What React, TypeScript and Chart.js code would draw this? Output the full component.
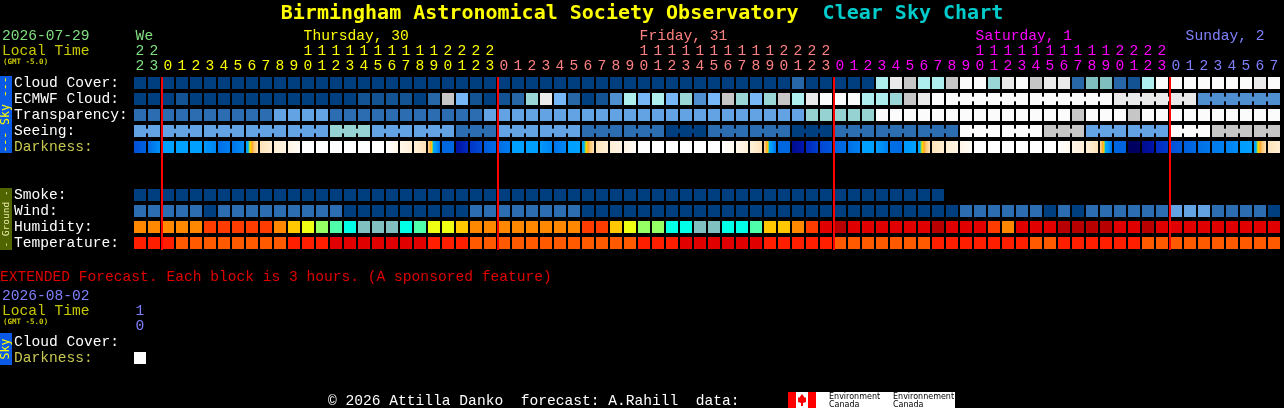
import React, { useEffect, useRef } from "react";
import { Chart, registerables } from "chart.js";

Chart.register(...registerables);

const MONO = "'Liberation Mono', 'DejaVu Sans Mono', monospace";
const BOLD_MONO = "'DejaVu Sans Mono', 'Liberation Mono', monospace";
const W = 1284;
const H = 408;

// ---------------- data ----------------
const hourLabels = [22, 23,
  0, 1, 2, 3, 4, 5, 6, 7, 8, 9, 10, 11, 12, 13, 14, 15, 16, 17, 18, 19, 20, 21, 22, 23,
  0, 1, 2, 3, 4, 5, 6, 7, 8, 9, 10, 11, 12, 13, 14, 15, 16, 17, 18, 19, 20, 21, 22, 23,
  0, 1, 2, 3, 4, 5, 6, 7, 8, 9, 10, 11, 12, 13, 14, 15, 16, 17, 18, 19, 20, 21, 22, 23,
  0, 1, 2, 3, 4, 5, 6, 7];

const dayNames = ["We", "Thursday, 30", "Friday, 31", "Saturday, 1", "Sunday, 2"];
const dayLabelColumns = [0, 12, 36, 60, 75];
const dayColors = ["#80e080", "#ffff00", "#ff8080", "#ff00ff", "#8080ff"];

// cloud cover, percent
const cloudCover = [
  0, 0, 0, 0, 0, 0, 0, 0, 0, 0,
  0, 0, 0, 0, 0, 0, 0, 0, 0, 0,
  0, 0, 0, 0, 0, 0, 0, 0, 0, 0,
  0, 0, 0, 0, 0, 0, 0, 0, 0, 0,
  0, 0, 0, 0, 0, 0, 0, 20, 0, 0,
  0, 0, 0, 70, 90, 80, 70, 70, 80, 100,
  100, 60, 90, 100, 80, 90, 90, 20, 55, 55,
  20, 10, 70, 100, 100, 100, 100, 100, 100, 100,
  90, 100];

const ecmwfCloud = [
  0, 0, 0, 10, 0, 0, 0, 0, 0, 0,
  0, 0, 0, 0, 0, 0, 10, 10, 10, 10,
  0, 20, 80, 50, 10, 0, 10, 20, 60, 90,
  50, 20, 0, 10, 40, 70, 50, 70, 50, 60,
  40, 50, 80, 60, 50, 60, 80, 70, 90, 100,
  100, 100, 70, 70, 60, 80, 90, 100, 100, 100,
  100, 100, 100, 100, 100, 100, 100, 100, 100, 100,
  90, 90, 90, 90, 90, 90, 40, 40, 40, 40,
  40, 40];
const ecmwfSixHourFrom = 58;

// transparency class: 1 above avg, 2 average, 3 below avg, 4 poor, 5 too cloudy
const transparency = [
  1, 1, 1, 1, 1, 1, 1, 1, 1, 1,
  2, 2, 2, 2, 1, 1, 1, 1, 1, 1,
  1, 1, 1, 1, 1, 2, 2, 2, 2, 2,
  2, 2, 2, 2, 2, 2, 2, 2, 2, 2,
  2, 2, 2, 2, 2, 2, 2, 2, 3, 3,
  3, 3, 3, 5, 5, 5, 5, 5, 5, 5,
  5, 5, 5, 5, 5, 5, 5, 4, 5, 5,
  5, 4, 5, 5, 5, 5, 5, 5, 5, 5,
  5, 5];

// seeing score 1..5 (0 = too cloudy)
const seeing = [
  3, 3, 3, 3, 3, 3, 3, 3, 3, 3,
  3, 3, 3, 3, 2, 2, 2, 3, 3, 3,
  3, 3, 3, 4, 4, 4, 3, 3, 3, 3,
  3, 3, 4, 4, 4, 4, 4, 4, 5, 5,
  5, 4, 4, 4, 4, 4, 4, 5, 5, 5,
  4, 4, 4, 4, 4, 4, 4, 4, 4, 0,
  0, 0, 0, 0, 0, 1, 1, 1, 3, 3,
  3, 3, 3, 3, 0, 0, 0, 1, 1, 1,
  1, 1];

// darkness index at start / end of each hour (-4 daylight ... 5.2 darkest)
const darknessFrom = [
  3.0, 2.3, 1.0, 1.0, 1.0, 1.2, 2.25, 2.1, 0.8, -1.2,
  -2.0, -2.8, -4, -4, -4, -4, -4, -4, -4, -3.0,
  -2.2, -0.9, 2.4, 4.3, 3.5, 2.7, 2.25, 1.0, 1.0, 1.2,
  2.1, 1.0, 0.8, -1.3, -2.1, -2.8, -4, -4, -4, -4,
  -4, -4, -4, -3.0, -2.2, -0.9, 2.4, 4.6, 3.8, 3.2,
  2.5, 2.2, 1.0, 1.1, 2.2, 1.2, 0.8, -1.2, -2.0, -2.8,
  -4, -4, -4, -4, -4, -4, -4, -3.0, -2.2, -0.9,
  2.4, 5.2, 4.6, 3.7, 3.0, 2.6, 2.2, 2.0, 1.8, 1.1,
  0.8, -1.2];
const darknessTo = [
  2.5, 1.4, 1.0, 1.0, 1.0, 1.7, 1.8, 1.5, -1.2, -2.0,
  -2.8, -3.5, -4, -4, -4, -4, -4, -4, -3.0, -2.2,
  -1.2, 2.2, 2.4, 3.7, 3.1, 2.3, 1.9, 1.0, 1.0, 1.7,
  1.6, 1.0, -1.2, -2.1, -2.8, -3.5, -4, -4, -4, -4,
  -4, -4, -3.2, -2.2, -1.2, 2.2, 2.4, 4.1, 3.3, 2.9,
  2.25, 1.8, 1.0, 1.8, 2.3, 1.0, -1.2, -2.0, -2.8, -3.6,
  -4, -4, -4, -4, -4, -4, -3.2, -2.2, -1.2, 2.2,
  2.5, 5.2, 4.2, 3.4, 2.7, 2.3, 2.0, 1.8, 1.5, 1.0,
  -1.2, -2.0];

const smoke = [
  0, 0, 0, 0, 0, 0, 0, 0, 0, 0,
  0, 0, 0, 0, 0, 0, 0, 0, 0, 0,
  0, 0, 0, 0, 0, 0, 0, 0, 0, 0,
  0, 0, 0, 0, 0, 0, 0, 0, 0, 0,
  0, 0, 0, 0, 0, 0, 0, 0, 0, 0,
  0, 0, 0, 0, 0, 0, 0, 0, null, null,
  null, null, null, null, null, null, null, null, null, null,
  null, null, null, null, null, null, null, null, null, null,
  null, null];

// wind class: 0 = 0-5 mph, 1 = 6-11 mph, 2 = 12-16 mph
const wind = [
  1, 1, 1, 1, 1, 0, 1, 1, 1, 1,
  1, 1, 1, 1, 1, 0, 0, 0, 0, 0,
  0, 0, 0, 0, 1, 1, 1, 1, 1, 1,
  1, 1, 0, 0, 0, 0, 0, 0, 0, 0,
  0, 0, 0, 0, 0, 0, 0, 0, 0, 0,
  0, 0, 0, 0, 0, 0, 0, 0, 0, 1,
  1, 1, 1, 1, 1, 0, 1, 0, 1, 1,
  1, 1, 1, 1, 2, 2, 2, 1, 1, 1,
  1, 0];

// relative humidity, percent
const humidity = [
  70, 70, 70, 70, 70, 80, 80, 80, 80, 80,
  70, 65, 60, 55, 50, 45, 40, 40, 40, 45,
  50, 60, 60, 65, 70, 70, 70, 70, 70, 70,
  70, 70, 80, 80, 65, 60, 55, 55, 45, 45,
  40, 40, 45, 45, 50, 65, 65, 70, 80, 90,
  95, 90, 90, 90, 90, 90, 90, 95, 90, 90,
  90, 80, 70, 90, 90, 90, 95, 95, 95, 95,
  90, 90, 95, 90, 90, 90, 90, 90, 90, 90,
  90, 90];

// temperature, deg F
const temperature = [
  82, 82, 82, 77, 77, 77, 77, 77, 77, 77,
  77, 82, 82, 82, 88, 88, 88, 88, 88, 88,
  88, 82, 82, 82, 77, 77, 77, 77, 77, 77,
  77, 77, 77, 77, 77, 77, 82, 82, 82, 88,
  88, 88, 88, 88, 88, 82, 82, 82, 82, 82,
  77, 77, 77, 77, 77, 77, 77, 82, 82, 82,
  82, 82, 82, 82, 77, 77, 82, 82, 82, 82,
  82, 82, 77, 77, 77, 77, 77, 77, 77, 77,
  77, 77];

const rowLabels = ["Cloud Cover:", "ECMWF Cloud:", "Transparency:", "Seeing:", "Darkness:", "", "", "Smoke:", "Wind:", "Humidity:", "Temperature:"];
const rowTicks = [0, 1, 2, 3, 4, 7, 8, 9, 10];

// extended forecast
const extDate = "2026-08-02";
const extHourLabels = [10];
const extCloud = [null];
const extDarkness = [-4];
const extRowLabels = ["Cloud Cover:", "Darkness:"];

// ---------------- palettes ----------------
const cloudColors = { 0: "#003F7F", 10: "#135393", 20: "#2767A7", 30: "#3B7BBB", 40: "#4F8FCF", 50: "#77B7F7", 55: "#7FBFBF", 60: "#9AD6D6", 70: "#AEEEEE", 80: "#C6C6C6", 90: "#EAEAEA", 100: "#FBFBFB" };
const transparencyColors = ["#003F7F", "#2C6CB0", "#63A3E3", "#96D2D2", "#C6C6C6", "#FBFBFB"];
const seeingColors = ["#FBFBFB", "#C6C6C6", "#96D2D2", "#63A3E3", "#2C6CB0", "#003F7F"];
const windColors = ["#003F7F", "#2C6CB0", "#63A3E3"];
const smokeColor = "#003F7F";
const humidityColors = { 40: "#80C0C0", 45: "#00FFE6", 50: "#50FFAA", 55: "#96FF64", 60: "#EEFF14", 65: "#FFC800", 70: "#FF8800", 80: "#FF3C00", 90: "#E00000", 95: "#B80000" };
const temperatureColors = { 77: "#FF5A00", 82: "#FF1E00", 88: "#E00000" };
const darkStops = [
  [-4, [255, 255, 255]], [-3, [255, 247, 234]], [-2, [255, 238, 210]], [-1.2, [255, 226, 184]],
  [-0.6, [255, 200, 120]], [-0.25, [255, 170, 51]], [0, [255, 196, 0]], [0.15, [240, 228, 0]],
  [0.3, [96, 200, 128]], [0.45, [0, 180, 224]], [0.6, [0, 164, 255]], [1.0, [0, 160, 255]],
  [1.6, [0, 136, 244]], [2.0, [0, 120, 236]], [2.4, [0, 102, 224]], [3.0, [0, 80, 216]],
  [3.6, [0, 48, 196]], [4.2, [0, 20, 168]], [4.8, [0, 8, 128]], [5.2, [0, 0, 96]],
];

function darkColor(d) {
  if (d <= darkStops[0][0]) return `rgb(${darkStops[0][1].join(",")})`;
  for (let k = 1; k < darkStops.length; k++) {
    const [d1, c1] = darkStops[k];
    const [d0, c0] = darkStops[k - 1];
    if (d <= d1) {
      const t = (d - d0) / (d1 - d0);
      const c = c0.map((v, j) => Math.round(v + (c1[j] - v) * t));
      return `rgb(${c.join(",")})`;
    }
  }
  return `rgb(${darkStops[darkStops.length - 1][1].join(",")})`;
}

const HALF = 0.375;
const LINK_HALF = 0.125;
const BLOCK = 12 / 14;

function blocks(label, values, row, colorOf) {
  return {
    label,
    data: values.map((v) => (v === null ? null : [row - HALF, row + HALF])),
    backgroundColor: values.map((v) => (v === null ? "rgba(0,0,0,0)" : colorOf(v))),
    grouped: false,
    barPercentage: BLOCK,
    categoryPercentage: 1,
    borderWidth: 0,
  };
}

function links(label, values, row, linked, colorOf) {
  const data = [];
  const colors = [];
  for (let i = 0; i < values.length - 1; i++) {
    if (values[i] !== null && linked(i)) {
      data.push({ x: i + 0.5, y: [row - LINK_HALF, row + LINK_HALF] });
      colors.push(colorOf(values[i]));
    }
  }
  return { label, data, xAxisID: "xc", backgroundColor: colors, grouped: false, barPercentage: 1, categoryPercentage: 1, maxBarThickness: 4, borderWidth: 0 };
}

function darknessBlocks(label, from, to, row) {
  return {
    label,
    data: from.map(() => [row - HALF, row + HALF]),
    backgroundColor: (c) => {
      const i = c.dataIndex;
      if (typeof i !== "number") return "#000";
      const a = from[i];
      const b = to[i];
      const xs = c.chart.scales && c.chart.scales.x;
      if (!xs || a === b) return darkColor(a);
      const cx = xs.getPixelForValue(i);
      if (!Number.isFinite(cx)) return darkColor((a + b) / 2);
      const g = c.chart.ctx.createLinearGradient(cx - 6, 0, cx + 6, 0);
      for (let k = 0; k <= 24; k++) {
        const t = k / 24;
        g.addColorStop(t, darkColor(a + (b - a) * t));
      }
      return g;
    },
    grouped: false,
    barPercentage: BLOCK,
    categoryPercentage: 1,
    borderWidth: 0,
  };
}

function dayIndexes() {
  const out = [];
  let d = 0;
  hourLabels.forEach((h, i) => {
    if (i > 0 && h === 0) d++;
    out.push(d);
  });
  return out;
}

function sideBar(ctx, x, y, w, h, fill, text, color, size) {
  ctx.save();
  ctx.fillStyle = fill;
  ctx.fillRect(x, y, w, h);
  ctx.translate(x + w / 2 + 0.5, y + h / 2);
  ctx.rotate(-Math.PI / 2);
  ctx.fillStyle = color;
  ctx.font = `${size}px ${BOLD_MONO}`;
  ctx.textAlign = "center";
  ctx.textBaseline = "middle";
  ctx.fillText(text, 0, 0);
  ctx.restore();
}

const mainPlugin = {
  id: "cscMain",
  afterDatasetsDraw(chart) {
    const xs = chart.scales.x;
    const ys = chart.scales.y;
    const ctx = chart.ctx;
    ctx.save();
    ctx.fillStyle = "#ff0000";
    const top = ys.getPixelForValue(-HALF);
    const bottom = ys.getPixelForValue(10 + HALF) + 1;
    hourLabels.forEach((h, i) => {
      if (i > 0 && h === 0) {
        const x = Math.round((xs.getPixelForValue(i - 1) + xs.getPixelForValue(i)) / 2);
        ctx.fillRect(x, top, 2, bottom - top);
      }
    });
    ctx.restore();
  },
  afterDraw(chart) {
    const ctx = chart.ctx;
    const xs = chart.scales.x;
    ctx.save();
    // title
    ctx.font = `bold 20px ${BOLD_MONO}`;
    ctx.textBaseline = "alphabetic";
    const t1 = "Birmingham Astronomical Society Observatory  ";
    const t2 = "Clear Sky Chart";
    const w1 = ctx.measureText(t1).width;
    const w2 = ctx.measureText(t2).width;
    const tx = W / 2 - (w1 + w2) / 2;
    ctx.fillStyle = "#ffff00";
    ctx.fillText(t1, tx, 19);
    ctx.fillStyle = "#00cccc";
    ctx.fillText(t2, tx + w1, 19);

    // left header
    ctx.font = `14.6px ${MONO}`;
    ctx.textAlign = "left";
    ctx.fillStyle = dayColors[0];
    ctx.fillText("2026-07-29", 2, 40);
    ctx.fillStyle = "#c8c800";
    ctx.fillText("Local Time", 2, 55);
    ctx.font = `bold 7.5px ${BOLD_MONO}`;
    ctx.fillText("(GMT -5.0)", 3, 64);

    // hours
    const days = dayIndexes();
    ctx.font = `14.6px ${MONO}`;
    const cw = ctx.measureText("0").width;
    ctx.textAlign = "center";
    hourLabels.forEach((h, i) => {
      const x = xs.getPixelForValue(i);
      ctx.fillStyle = dayColors[days[i]];
      if (h >= 10) ctx.fillText(String(Math.floor(h / 10)), x, 55);
      ctx.fillText(String(h % 10), x, 70);
    });
    ctx.textAlign = "left";
    dayNames.forEach((name, d) => {
      ctx.fillStyle = dayColors[d];
      ctx.fillText(name, xs.getPixelForValue(dayLabelColumns[d]) - cw / 2, 40);
    });
    ctx.restore();

    sideBar(ctx, 0, 76, 12, 77, "#0a5ae6", "--- Sky ---", "#ffff00", 11.5);
    sideBar(ctx, 0, 188, 12, 62, "#506400", "- Ground -", "#f0f0b0", 9.5);
  },
};

const extPlugin = {
  id: "cscExt",
  afterDraw(chart) {
    const ctx = chart.ctx;
    const xs = chart.scales.x;
    ctx.save();
    ctx.font = `14.6px ${MONO}`;
    ctx.textBaseline = "alphabetic";
    ctx.textAlign = "left";
    ctx.fillStyle = "#e00000";
    ctx.fillText("EXTENDED Forecast. Each block is 3 hours. (A sponsored feature)", 0, 281);
    ctx.fillStyle = "#8080ff";
    ctx.fillText(extDate, 2, 300);
    ctx.fillStyle = "#c8c800";
    ctx.fillText("Local Time", 2, 315);
    ctx.font = `bold 7.5px ${BOLD_MONO}`;
    ctx.fillText("(GMT -5.0)", 3, 324);
    ctx.font = `14.6px ${MONO}`;
    ctx.textAlign = "center";
    ctx.fillStyle = "#8080ff";
    extHourLabels.forEach((h, i) => {
      const x = xs.getPixelForValue(i);
      if (h >= 10) ctx.fillText(String(Math.floor(h / 10)), x, 315);
      ctx.fillText(String(h % 10), x, 330);
    });

    // footer
    ctx.textAlign = "left";
    ctx.fillStyle = "#ffffff";
    ctx.fillText("\u00a9 2026 Attilla Danko  forecast: A.Rahill  data:", 328, 405);
    ctx.fillStyle = "#ffffff";
    ctx.fillRect(788, 392, 167, 16);
    ctx.fillStyle = "#ff0000";
    ctx.fillRect(788, 392, 8, 16);
    ctx.fillRect(808, 392, 8, 16);
    ctx.beginPath();
    ctx.moveTo(802, 394);
    ctx.lineTo(805, 398);
    ctx.lineTo(806, 397);
    ctx.lineTo(806, 402);
    ctx.lineTo(803, 403);
    ctx.lineTo(803, 406);
    ctx.lineTo(801, 406);
    ctx.lineTo(801, 403);
    ctx.lineTo(798, 402);
    ctx.lineTo(798, 397);
    ctx.lineTo(799, 398);
    ctx.closePath();
    ctx.fill();
    ctx.fillStyle = "#000000";
    ctx.font = "8px 'DejaVu Sans', sans-serif";
    ctx.fillText("Environment", 829, 399);
    ctx.fillText("Canada", 829, 407);
    ctx.fillText("Environnement", 893, 399);
    ctx.fillText("Canada", 893, 407);
    ctx.restore();

    sideBar(ctx, 0, 333, 12, 32, "#0a5ae6", "Sky", "#ffff00", 11.5);
  },
};

function yAxis(min, max, ticks, labels, colorOf) {
  return {
    type: "linear",
    position: "left",
    reverse: true,
    min,
    max,
    grid: { display: false },
    border: { display: false },
    afterBuildTicks: (s) => {
      s.ticks = ticks.map((v) => ({ value: v }));
    },
    afterFit: (s) => {
      s.width = 119;
    },
    ticks: {
      autoSkip: false,
      crossAlign: "far",
      padding: 0,
      labelOffset: 0,
      font: { family: MONO, size: 14.6, lineHeight: 1 },
      color: (c) => colorOf(c.tick ? c.tick.value : 0),
      callback: (v) => labels[Math.round(v)] || "",
    },
  };
}

export default function App() {
  const mainRef = useRef(null);
  const extRef = useRef(null);

  useEffect(() => {
    const seeingLinked = (i) => hourLabels[i + 1] % 3 !== 0;
    const ecmwfLinked = (i) => i >= ecmwfSixHourFrom && (i + 1 - ecmwfSixHourFrom) % 6 !== 0;

    const datasets = [
      blocks("Cloud Cover", cloudCover, 0, (v) => cloudColors[v]),
      blocks("ECMWF Cloud", ecmwfCloud, 1, (v) => cloudColors[v]),
      links("ECMWF link", ecmwfCloud, 1, ecmwfLinked, (v) => cloudColors[v]),
      blocks("Transparency", transparency, 2, (v) => transparencyColors[v]),
      blocks("Seeing", seeing, 3, (v) => seeingColors[v]),
      links("Seeing link", seeing, 3, seeingLinked, (v) => seeingColors[v]),
      darknessBlocks("Darkness", darknessFrom, darknessTo, 4),
      blocks("Smoke", smoke, 7, () => smokeColor),
      blocks("Wind", wind, 8, (v) => windColors[v]),
      blocks("Humidity", humidity, 9, (v) => humidityColors[v]),
      blocks("Temperature", temperature, 10, (v) => temperatureColors[v]),
    ];

    const main = new Chart(mainRef.current, {
      type: "bar",
      data: { labels: hourLabels.map(String), datasets },
      options: {
        responsive: false,
        animation: false,
        events: [],
        layout: { padding: { left: 14, right: 3, top: 75, bottom: 157 } },
        plugins: { legend: { display: false }, tooltip: { enabled: false } },
        scales: {
          x: { type: "category", display: false, offset: true },
          xc: { type: "linear", axis: "x", display: false, min: -0.5, max: hourLabels.length - 0.5, offset: false },
          y: yAxis(-0.5, 10.5, rowTicks, rowLabels, (v) => (v === 4 ? "#c8c850" : "#ffffff")),
        },
      },
      plugins: [mainPlugin],
    });

    const ext = new Chart(extRef.current, {
      type: "bar",
      data: {
        labels: extHourLabels.map(String),
        datasets: [
          blocks("Cloud Cover", extCloud, 0, (v) => cloudColors[v]),
          darknessBlocks("Darkness", extDarkness, extDarkness, 1),
        ],
      },
      options: {
        responsive: false,
        animation: false,
        events: [],
        layout: { padding: { left: 14, right: W - 133 - 14 * extHourLabels.length, top: 334, bottom: H - 366 } },
        plugins: { legend: { display: false }, tooltip: { enabled: false } },
        scales: {
          x: { type: "category", display: false, offset: true },
          y: yAxis(-0.5, 1.5, [0, 1], extRowLabels, (v) => (v === 1 ? "#c8c850" : "#ffffff")),
        },
      },
      plugins: [extPlugin],
    });

    return () => {
      main.destroy();
      ext.destroy();
    };
  }, []);

  return (
    <div style={{ position: "fixed", left: 0, top: 0, width: W, height: H, background: "#000", overflow: "hidden" }}>
      <canvas ref={mainRef} width={W} height={H} style={{ position: "absolute", left: 0, top: 0, width: W, height: H }} />
      <canvas ref={extRef} width={W} height={H} style={{ position: "absolute", left: 0, top: 0, width: W, height: H }} />
    </div>
  );
}
